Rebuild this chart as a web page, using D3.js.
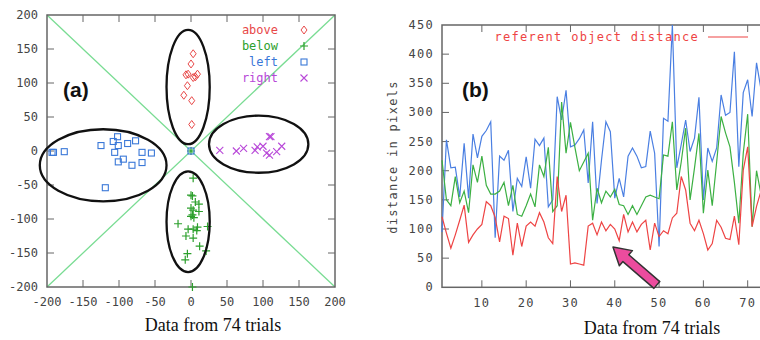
<!DOCTYPE html>
<html><head><meta charset="utf-8">
<script src="https://cdn.jsdelivr.net/npm/d3@7"></script>
<style>body{margin:0;background:#fff}svg{display:block}</style>
</head><body>
<svg id="c" width="760" height="340"></svg>
<script>
// ---- Panel (a) data ----
const aboveX = [3, 0, -7, -4, 3, 9, 6, -5, -10, 1, 1];
const aboveY = [143, 128, 112, 113, 108, 113, 109, 96, 82, 74, 39];
const belowX = [3, 0, 2, 6, 11, 0, 3, 11, 2, 0, 4, -18, 23, 9, -4, 3, 8, -7, 3, 12, 21, -5, -8, 2, 0];
const belowY = [-40, -65, -66, -75, -78, -84, -87, -89, -94, -96, -98, -107, -111, -112, -115, -115, -117, -125, -128, -140, -147, -151, -160, -200, 0];
const leftX = [-193, -191, -176, -125, -108, -102, -101, -88, -77, -106, -68, -55, -101, -94, -82, -68, -119, 0];
const leftY = [-2, -2, -1, 8, 14, 21, 8, 11, 15, -2, -2, -3, -16, -12, -21, -17, -54, 0];
const rightX = [40, 63, 73, 89, 92, 100, 109, 111, 105, 109, 119, 126];
const rightY = [1, 0, 4, 1, 6, 7, 21, 21, -3, -6, -1, 7];
const legendNames = ["above", "below", "left", "right"];
const axisTicksA = [-200, -150, -100, -50, 0, 50, 100, 150, 200];
// cluster ellipses: center x, center y, radius x, radius y (data units)
const ellCX = [-4, -4, -122, 94];
const ellCY = [94, -104, -21, 10];
const ellRX = [30, 30, 88, 69];
const ellRY = [84, 74, 53, 42];

// ---- Panel (b) data ----
const trials = d3.range(1, 75);
const blueDist = [95, 253, 205, 206, 155, 247, 153, 263, 222, 259, 269, 284, 85, 225, 218, 235, 130, 187, 173, 224,
  170, 254, 243, 256, 138, 150, 327, 287, 338, 241, 244, 255, 270, 179, 284, 144, 218, 284, 267, 153,
  187, 155, 225, 239, 225, 205, 207, 268, 230, 70, 290, 285, 450, 205, 245, 287, 233, 256, 326, 150,
  239, 216, 239, 330, 295, 300, 404, 207, 334, 356, 293, 385, 340, 250];
const greenDist = [218, 150, 140, 190, 145, 165, 128, 210, 180, 225, 175, 160, 160, 165, 180, 140, 175, 125, 122, 140,
  160, 138, 210, 190, 240, 130, 140, 318, 230, 283, 240, 200, 215, 230, 115, 170, 145, 165, 155, 168,
  142, 140, 125, 140, 125, 140, 155, 158, 155, 152, 227, 225, 284, 167, 215, 273, 150, 205, 264, 127,
  201, 140, 215, 293, 265, 241, 180, 110, 230, 297, 104, 200, 160, 150];
const redDist = [121, 93, 67, 90, 115, 141, 77, 90, 100, 108, 147, 140, 120, 78, 122, 118, 55, 110, 70, 105,
  112, 105, 128, 112, 85, 75, 190, 130, 158, 40, 42, 40, 38, 105, 110, 90, 112, 97, 108, 100,
  80, 125, 95, 112, 95, 108, 115, 64, 110, 87, 97, 92, 119, 127, 190, 167, 110, 97, 115, 92,
  64, 75, 115, 103, 84, 82, 122, 73, 201, 241, 104, 139, 165, 140];
const yTicksB = [0, 50, 100, 150, 200, 250, 300, 350, 400, 450];
const xTicksB = [10, 20, 30, 40, 50, 60, 70];
const legendB = "referent object distance";
const arrowTip = [39.6, 69], arrowTail = [49.5, 4];

const svg = d3.select("#c");
const mono = "'DejaVu Sans Mono', monospace";
const gridGrey = "#666";
const txtGrey = "#444";

// ============ Panel (a) ============
const xa = d3.scaleLinear().domain([-200, 200]).range([47, 335]);
const ya = d3.scaleLinear().domain([-200, 200]).range([287, 15]);
const ga = svg.append("g");

[[[-200, 200], [200, -200]], [[-200, -200], [200, 200]]].forEach(seg => {
  ga.append("line").attr("x1", xa(seg[0][0])).attr("y1", ya(seg[0][1]))
    .attr("x2", xa(seg[1][0])).attr("y2", ya(seg[1][1]))
    .attr("stroke", "#79dc93").attr("stroke-width", 1.3);
});

ga.append("rect").attr("x", xa(-200)).attr("y", ya(200)).attr("width", xa(200) - xa(-200))
  .attr("height", ya(-200) - ya(200)).attr("fill", "none").attr("stroke", gridGrey).attr("stroke-width", 1.5);

const tl = 7;
axisTicksA.forEach(t => {
  if (t > -200 && t < 200) {
    ga.append("line").attr("x1", xa(t)).attr("x2", xa(t)).attr("y1", ya(-200)).attr("y2", ya(-200) - tl).attr("stroke", gridGrey);
    ga.append("line").attr("x1", xa(t)).attr("x2", xa(t)).attr("y1", ya(200)).attr("y2", ya(200) + tl).attr("stroke", gridGrey);
    ga.append("line").attr("y1", ya(t)).attr("y2", ya(t)).attr("x1", xa(-200)).attr("x2", xa(-200) + tl).attr("stroke", gridGrey);
    ga.append("line").attr("y1", ya(t)).attr("y2", ya(t)).attr("x1", xa(200)).attr("x2", xa(200) - tl).attr("stroke", gridGrey);
  }
  ga.append("text").attr("x", xa(t)).attr("y", 306).attr("text-anchor", "middle")
    .attr("font-family", mono).attr("font-size", 12).attr("fill", txtGrey).text(t);
  ga.append("text").attr("x", 38).attr("y", ya(t) + 4).attr("text-anchor", "end")
    .attr("font-family", mono).attr("font-size", 12).attr("fill", txtGrey).text(t);
});

const colA = ["#e84848", "#2ca02c", "#3a78d8", "#b848d8"];
function diamond(g, cx, cy, c) {
  g.append("path").attr("d", `M${cx},${cy - 4}L${cx + 3},${cy}L${cx},${cy + 4}L${cx - 3},${cy}Z`)
    .attr("fill", "none").attr("stroke", c).attr("stroke-width", 1);
}
function plus(g, cx, cy, c) {
  g.append("path").attr("d", `M${cx - 4},${cy}H${cx + 4}M${cx},${cy - 4}V${cy + 4}`)
    .attr("fill", "none").attr("stroke", c).attr("stroke-width", 1.2);
}
function square(g, cx, cy, c) {
  g.append("rect").attr("x", cx - 3).attr("y", cy - 3).attr("width", 6).attr("height", 6)
    .attr("fill", "none").attr("stroke", c).attr("stroke-width", 1.1);
}
function cross(g, cx, cy, c) {
  g.append("path").attr("d", `M${cx - 3.5},${cy - 3.5}L${cx + 3.5},${cy + 3.5}M${cx - 3.5},${cy + 3.5}L${cx + 3.5},${cy - 3.5}`)
    .attr("fill", "none").attr("stroke", c).attr("stroke-width", 1.1);
}
const symFns = [diamond, plus, square, cross];
const seriesA = [[aboveX, aboveY], [belowX, belowY], [leftX, leftY], [rightX, rightY]];
seriesA.forEach((s, i) => {
  s[0].forEach((xv, j) => symFns[i](ga, xa(xv), ya(s[1][j]), colA[i]));
});

ellCX.forEach((cx, i) => {
  ga.append("ellipse").attr("cx", xa(cx)).attr("cy", ya(ellCY[i]))
    .attr("rx", xa(ellRX[i]) - xa(0)).attr("ry", ya(0) - ya(ellRY[i]))
    .attr("fill", "none").attr("stroke", "#111").attr("stroke-width", 2.3);
});

legendNames.forEach((n, i) => {
  const ly = 30 + i * 16;
  ga.append("text").attr("x", 278).attr("y", ly + 4).attr("text-anchor", "end")
    .attr("font-family", mono).attr("font-size", 12).attr("fill", colA[i]).text(n);
  symFns[i](ga, 304, ly, colA[i]);
});

ga.append("text").attr("x", 63).attr("y", 97).attr("font-family", "'Liberation Sans', Arial, sans-serif")
  .attr("font-weight", "bold").attr("font-size", 21).attr("fill", "#111").text("(a)");
ga.append("text").attr("x", 213).attr("y", 331).attr("text-anchor", "middle")
  .attr("font-family", "'Liberation Serif', 'Times New Roman', serif").attr("font-size", 18).attr("fill", "#111")
  .text("Data from 74 trials");

// ============ Panel (b) ============
const xb = d3.scaleLinear().domain([1, 74]).range([442, 765.4]);
const yb = d3.scaleLinear().domain([0, 450]).range([287.3, 25]);
const gb = svg.append("g");

gb.append("rect").attr("x", xb(1)).attr("y", yb(450)).attr("width", xb(74) - xb(1))
  .attr("height", yb(0) - yb(450)).attr("fill", "none").attr("stroke", gridGrey).attr("stroke-width", 1.5);

xTicksB.forEach(t => {
  gb.append("line").attr("x1", xb(t)).attr("x2", xb(t)).attr("y1", yb(0)).attr("y2", yb(0) - tl).attr("stroke", gridGrey);
  gb.append("line").attr("x1", xb(t)).attr("x2", xb(t)).attr("y1", yb(450)).attr("y2", yb(450) + tl).attr("stroke", gridGrey);
  gb.append("text").attr("x", xb(t)).attr("y", 307).attr("text-anchor", "middle")
    .attr("font-family", mono).attr("font-size", 12).attr("letter-spacing", 1.3).attr("fill", txtGrey).text(t);
});
yTicksB.forEach(t => {
  if (t > 0 && t < 450)
    gb.append("line").attr("y1", yb(t)).attr("y2", yb(t)).attr("x1", xb(1)).attr("x2", xb(1) + tl).attr("stroke", gridGrey);
  gb.append("text").attr("x", 434).attr("y", yb(t) + 4).attr("text-anchor", "end")
    .attr("font-family", mono).attr("font-size", 12).attr("letter-spacing", 1.3).attr("fill", txtGrey).text(t);
});

const line = d3.line().x((d, i) => xb(trials[i])).y(d => yb(d));
[[blueDist, "#4a7fe2"], [greenDist, "#3cb043"], [redDist, "#ee4444"]].forEach(([arr, c]) => {
  gb.append("path").attr("d", line(arr)).attr("fill", "none").attr("stroke", c).attr("stroke-width", 1.2);
});

gb.append("text").attr("x", 699).attr("y", 41).attr("text-anchor", "end")
  .attr("font-family", mono).attr("font-size", 12).attr("letter-spacing", 1.3).attr("fill", "#ee4444").text(legendB);
gb.append("line").attr("x1", 708).attr("x2", 748).attr("y1", 37).attr("y2", 37).attr("stroke", "#ee4444").attr("stroke-width", 1.2);

gb.append("text").attr("transform", "translate(397,157) rotate(-90)").attr("text-anchor", "middle")
  .attr("font-family", mono).attr("font-size", 12).attr("letter-spacing", 1.3).attr("fill", txtGrey).text("distance in pixels");

gb.append("text").attr("x", 462).attr("y", 97).attr("font-family", "'Liberation Sans', Arial, sans-serif")
  .attr("font-weight", "bold").attr("font-size", 21).attr("fill", "#111").text("(b)");
gb.append("text").attr("x", 652).attr("y", 334).attr("text-anchor", "middle")
  .attr("font-family", "'Liberation Serif', 'Times New Roman', serif").attr("font-size", 18).attr("fill", "#111")
  .text("Data from 74 trials");

(function () {
  const T = [xb(arrowTip[0]), yb(arrowTip[1])], E = [xb(arrowTail[0]), yb(arrowTail[1])];
  const dx = E[0] - T[0], dy = E[1] - T[1], L = Math.hypot(dx, dy);
  const u = [dx / L, dy / L], n = [-u[1], u[0]];
  const hl = 17, hw = 10, sw = 4.5;
  const B = [T[0] + hl * u[0], T[1] + hl * u[1]];
  const p = (b, k) => [b[0] + k * n[0], b[1] + k * n[1]];
  const pts = [T, p(B, hw), p(B, sw), p(E, sw), p(E, -sw), p(B, -sw), p(B, -hw)];
  gb.append("path").attr("d", "M" + pts.map(q => q.join(",")).join("L") + "Z")
    .attr("fill", "#ec4c9e").attr("stroke", "#333").attr("stroke-width", 1.5).attr("stroke-linejoin", "round");
})();
</script>
</body></html>
